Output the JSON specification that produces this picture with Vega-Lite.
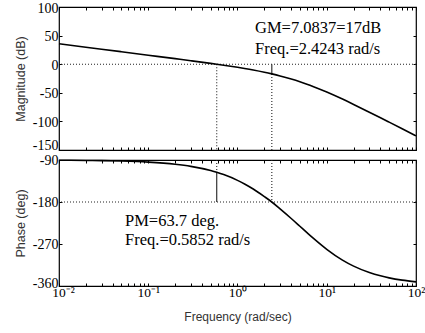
{
  "$schema": "https://vega.github.io/schema/vega-lite/v6.json",
  "background": "white",
  "padding": {"left": 13, "top": 0, "right": 0, "bottom": 0},
  "bounds": "flush",
  "spacing": 10,
  "config": {
    "view": {"stroke": "#000", "strokeWidth": 1.2},
    "axis": {
      "labelFont": "Liberation Serif, serif",
      "labelFontSize": 14,
      "labelColor": "#000",
      "labelFlush": false,
      "labelOverlap": false,
      "titleFont": "Liberation Sans",
      "titleFontWeight": "normal",
      "titleColor": "#333",
      "tickColor": "#000",
      "tickSize": -3,
      "tickWidth": 1,
      "domain": false,
      "grid": false
    }
  },
  "datasets": {
    "curve": [
      {"w": 0.01, "mag": 35.77, "ph": -90.46},
      {"w": 0.02, "mag": 29.75, "ph": -90.92},
      {"w": 0.03, "mag": 26.23, "ph": -91.38},
      {"w": 0.05, "mag": 21.79, "ph": -92.29},
      {"w": 0.1, "mag": 15.76, "ph": -94.58},
      {"w": 0.2, "mag": 9.70, "ph": -99.15},
      {"w": 0.3, "mag": 6.11, "ph": -103.68},
      {"w": 0.5, "mag": 1.48, "ph": -112.61},
      {"w": 0.5852, "mag": 0, "ph": -116.34},
      {"w": 0.7, "mag": -1.73, "ph": -121.28},
      {"w": 1, "mag": -5.39, "ph": -133.63},
      {"w": 1.2, "mag": -7.43, "ph": -141.37},
      {"w": 1.5, "mag": -10.12, "ph": -152.23},
      {"w": 2, "mag": -14.01, "ph": -168.40},
      {"w": 2.4243, "mag": -16.93, "ph": -180.0},
      {"w": 3, "mag": -20.49, "ph": -194.77},
      {"w": 4, "mag": -25.93, "ph": -215.36},
      {"w": 5, "mag": -30.69, "ph": -231.94},
      {"w": 6, "mag": -34.95, "ph": -245.54},
      {"w": 7, "mag": -38.81, "ph": -256.85},
      {"w": 10, "mag": -48.62, "ph": -281.31},
      {"w": 15, "mag": -60.98, "ph": -304.50},
      {"w": 20, "mag": -70.30, "ph": -317.42},
      {"w": 30, "mag": -83.86, "ph": -331.13},
      {"w": 40, "mag": -93.66, "ph": -338.22},
      {"w": 50, "mag": -101.33, "ph": -342.52},
      {"w": 70, "mag": -112.94, "ph": -347.48},
      {"w": 100, "mag": -125.3, "ph": -351.22}
    ],
    "magZero": [{"y": 0}],
    "phCross": [{"y": -180}],
    "magSegs": [
      {"w": 0.5852, "y1": 0, "y2": -150, "style": "dot"},
      {"w": 2.4243, "y1": 0, "y2": -16.93, "style": "solid"},
      {"w": 2.4243, "y1": -16.93, "y2": -150, "style": "dot"}
    ],
    "phSegs": [
      {"w": 0.5852, "y1": -90, "y2": -116.34, "style": "dot"},
      {"w": 0.5852, "y1": -116.34, "y2": -180, "style": "solid"},
      {"w": 2.4243, "y1": -90, "y2": -180, "style": "dot"}
    ],
    "magText": [
      {"w": 1.571, "y": 63.9, "label": "GM=7.0837=17dB"},
      {"w": 1.571, "y": 27.3, "label": "Freq.=2.4243 rad/s"}
    ],
    "phText": [
      {"w": 0.0549, "y": -221.7, "label": "PM=63.7 deg."},
      {"w": 0.0549, "y": -262.2, "label": "Freq.=0.5852 rad/s"}
    ]
  },
  "vconcat": [
    {
      "width": 357,
      "height": 143,
      "layer": [
        {
          "data": {"name": "magZero"},
          "mark": {"type": "rule", "color": "#222", "strokeWidth": 1.1, "strokeDash": [1, 2]},
          "encoding": {"y": {"field": "y", "type": "quantitative", "scale": {"domain": [-150, 100], "nice": false, "zero": false}, "axis": null}}
        },
        {
          "data": {"name": "magSegs"},
          "mark": {"type": "rule", "color": "#222", "strokeWidth": 1.1},
          "encoding": {
            "x": {"field": "w", "type": "quantitative", "scale": {"type": "log", "domain": [0.01, 100], "nice": false}, "axis": null},
            "y": {"field": "y1", "type": "quantitative", "axis": null},
            "y2": {"field": "y2"},
            "strokeDash": {"field": "style", "type": "nominal", "scale": {"domain": ["dot", "solid"], "range": [[1, 2], [1, 0]]}, "legend": null}
          }
        },
        {
          "data": {"name": "curve"},
          "mark": {"type": "line", "color": "#000", "strokeWidth": 1.6, "interpolate": "monotone"},
          "encoding": {
            "x": {"field": "w", "type": "quantitative", "scale": {"type": "log", "domain": [0.01, 100], "nice": false},
              "axis": {"orient": "bottom", "title": null, "labels": false, "tickSize": -3,
                "values": [0.01,0.02,0.03,0.04,0.05,0.06,0.07,0.08,0.09,0.1,0.2,0.3,0.4,0.5,0.6,0.7,0.8,0.9,1,2,3,4,5,6,7,8,9,10,20,30,40,50,60,70,80,90,100]}},
            "y": {"field": "mag", "type": "quantitative", "scale": {"domain": [-150, 100], "nice": false, "zero": false},
              "axis": {"orient": "left", "title": "Magnitude (dB)", "titleFontSize": 12.5, "titlePadding": 5, "labelPadding": 4, "tickSize": -3,
                "labelFont": "Liberation Serif, serif", "labelFontSize": 14,
                "labelOffset": {"condition": {"test": "datum.value == -150", "value": -5}, "value": 1},
                "values": [-150, -100, -50, 0, 50, 100], "labelExpr": "'' + datum.value"}}
          }
        },
        {
          "data": {"name": "curve"},
          "mark": {"type": "line", "opacity": 0},
          "encoding": {
            "x": {"field": "w", "type": "quantitative", "scale": {"type": "log", "domain": [0.01, 100], "nice": false},
              "axis": {"orient": "top", "title": null, "labels": false, "tickSize": -3,
                "values": [0.01,0.02,0.03,0.04,0.05,0.06,0.07,0.08,0.09,0.1,0.2,0.3,0.4,0.5,0.6,0.7,0.8,0.9,1,2,3,4,5,6,7,8,9,10,20,30,40,50,60,70,80,90,100]}},
            "y": {"field": "mag", "type": "quantitative",
              "axis": {"orient": "right", "title": null, "labels": false, "tickSize": -3, "values": [-150, -100, -50, 0, 50, 100]}}
          }
        },
        {
          "data": {"name": "magText"},
          "mark": {"type": "text", "align": "left", "baseline": "middle", "font": "Liberation Serif", "fontSize": 16.5, "color": "#000"},
          "encoding": {
            "x": {"field": "w", "type": "quantitative", "axis": null},
            "y": {"field": "y", "type": "quantitative", "axis": null},
            "text": {"field": "label"}
          }
        }
      ],
      "resolve": {"axis": {"x": "independent", "y": "independent"}}
    },
    {
      "width": 357,
      "height": 126,
      "layer": [
        {
          "data": {"name": "phCross"},
          "mark": {"type": "rule", "color": "#222", "strokeWidth": 1.1, "strokeDash": [1, 2]},
          "encoding": {"y": {"field": "y", "type": "quantitative", "scale": {"domain": [-360, -90], "nice": false, "zero": false}, "axis": null}}
        },
        {
          "data": {"name": "phSegs"},
          "mark": {"type": "rule", "color": "#222", "strokeWidth": 1.1},
          "encoding": {
            "x": {"field": "w", "type": "quantitative", "scale": {"type": "log", "domain": [0.01, 100], "nice": false}, "axis": null},
            "y": {"field": "y1", "type": "quantitative", "axis": null},
            "y2": {"field": "y2"},
            "strokeDash": {"field": "style", "type": "nominal", "scale": {"domain": ["dot", "solid"], "range": [[1, 2], [1, 0]]}, "legend": null}
          }
        },
        {
          "data": {"name": "curve"},
          "mark": {"type": "line", "color": "#000", "strokeWidth": 1.6, "interpolate": "monotone"},
          "encoding": {
            "x": {"field": "w", "type": "quantitative", "scale": {"type": "log", "domain": [0.01, 100], "nice": false},
              "axis": {"orient": "bottom", "title": "Frequency (rad/sec)", "titleFontSize": 12, "titlePadding": 13, "labelPadding": 2, "tickSize": -3,
                "labelFont": "Liberation Serif, serif", "labelFontSize": 13.5,
                "labelOffset": {"condition": {"test": "datum.value == 0.01", "value": 4}, "value": 0},
                "values": [0.01,0.02,0.03,0.04,0.05,0.06,0.07,0.08,0.09,0.1,0.2,0.3,0.4,0.5,0.6,0.7,0.8,0.9,1,2,3,4,5,6,7,8,9,10,20,30,40,50,60,70,80,90,100],
                "labelExpr": "datum.value == 0.01 ? '10⁻²' : datum.value == 0.1 ? '10⁻¹' : datum.value == 1 ? '10⁰' : datum.value == 10 ? '10¹' : datum.value == 100 ? '10²' : ''"}},
            "y": {"field": "ph", "type": "quantitative", "scale": {"domain": [-360, -90], "nice": false, "zero": false},
              "axis": {"orient": "left", "title": "Phase (deg)", "titleFontSize": 12.5, "titlePadding": 5, "labelPadding": 4, "tickSize": -3,
                "labelFont": "Liberation Serif, serif", "labelFontSize": 14,
                "labelOffset": {"condition": {"test": "datum.value == -360", "value": -3}, "value": 0},
                "values": [-360, -270, -180, -90], "labelExpr": "'' + datum.value"}}
          }
        },
        {
          "data": {"name": "curve"},
          "mark": {"type": "line", "opacity": 0},
          "encoding": {
            "x": {"field": "w", "type": "quantitative", "scale": {"type": "log", "domain": [0.01, 100], "nice": false},
              "axis": {"orient": "top", "title": null, "labels": false, "tickSize": -3,
                "values": [0.01,0.02,0.03,0.04,0.05,0.06,0.07,0.08,0.09,0.1,0.2,0.3,0.4,0.5,0.6,0.7,0.8,0.9,1,2,3,4,5,6,7,8,9,10,20,30,40,50,60,70,80,90,100]}},
            "y": {"field": "ph", "type": "quantitative",
              "axis": {"orient": "right", "title": null, "labels": false, "tickSize": -3, "values": [-360, -270, -180, -90]}}
          }
        },
        {
          "data": {"name": "phText"},
          "mark": {"type": "text", "align": "left", "baseline": "middle", "font": "Liberation Serif", "fontSize": 16.5, "color": "#000"},
          "encoding": {
            "x": {"field": "w", "type": "quantitative", "axis": null},
            "y": {"field": "y", "type": "quantitative", "axis": null},
            "text": {"field": "label"}
          }
        }
      ],
      "resolve": {"axis": {"x": "independent", "y": "independent"}}
    }
  ]
}
